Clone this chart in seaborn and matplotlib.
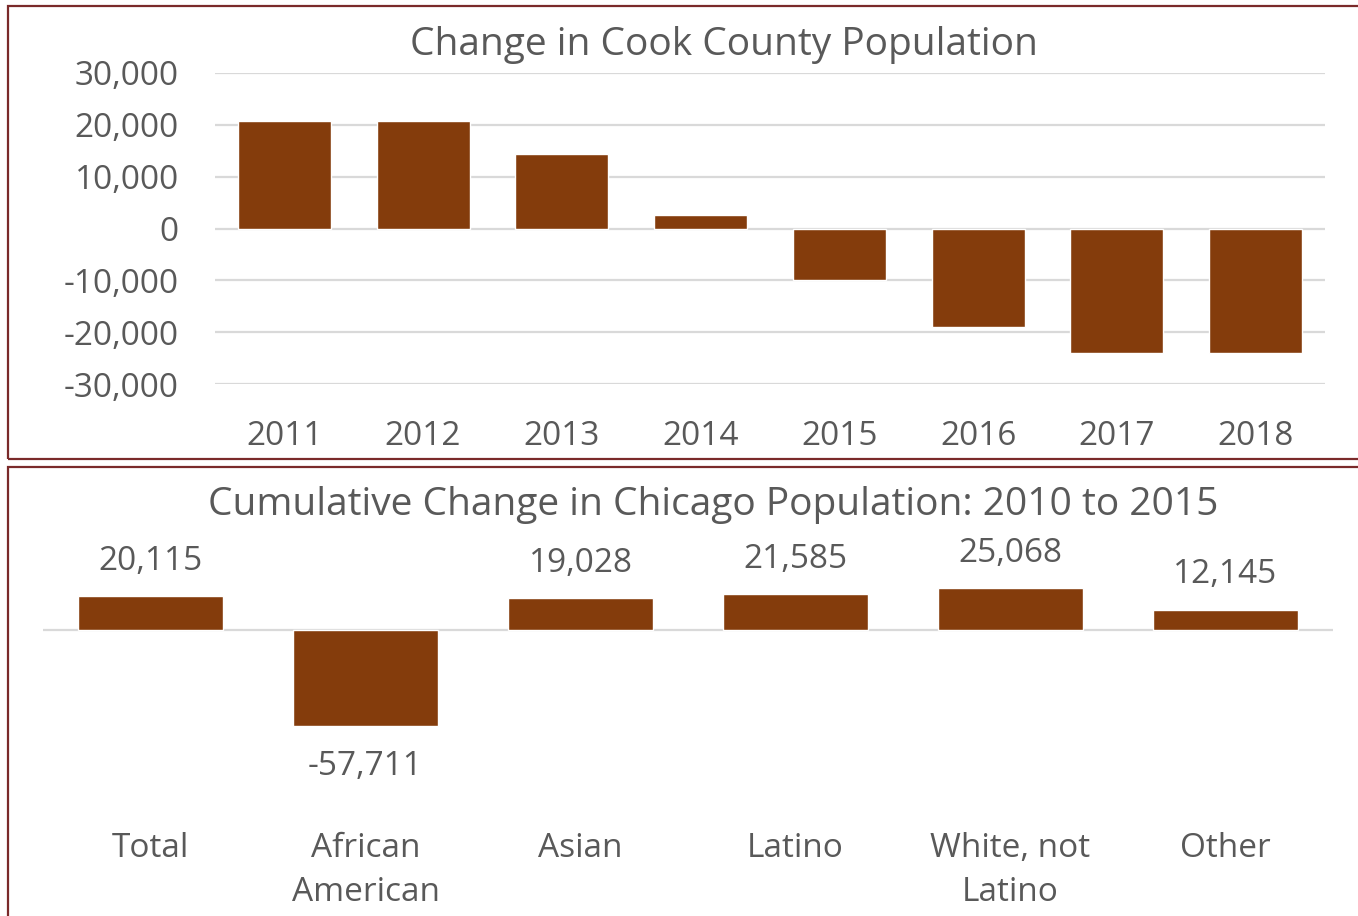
import matplotlib
matplotlib.use("Agg")
import matplotlib.pyplot as plt
import seaborn as sns
import pandas as pd
from matplotlib.patches import Rectangle

years = ["2011", "2012", "2013", "2014", "2015", "2016", "2017", "2018"]
cook_change = [20700, 20700, 14300, 2700, -10000, -19000, -24000, -24000]
y_ticks = [-30000, -20000, -10000, 0, 10000, 20000, 30000]

groups = ["Total", "African\nAmerican", "Asian", "Latino", "White, not\nLatino", "Other"]
chicago_change = [20115, -57711, 19028, 21585, 25068, 12145]

title_top = "Change in Cook County Population"
title_bottom = "Cumulative Change in Chicago Population: 2010 to 2015"

BAR = "#843C0C"
TXT = "#595959"
GRID = "#D9D9D9"
FRAME = "#7A2A2A"

sns.set_theme(style="white")
plt.rcParams['font.family'] = ['Open Sans', 'DejaVu Sans']

W, H = 1358, 916
fig = plt.figure(figsize=(W / 100, H / 100), dpi=100)

def fx(px):
    return px / W

def fy(py):
    return 1 - py / H

# frames
fig.patches.append(Rectangle((fx(8), fy(459)), fx(1400 - 8), (459 - 6) / H,
                             transform=fig.transFigure, fill=False, edgecolor=FRAME, lw=1.6))
fig.patches.append(Rectangle((fx(8), fy(940)), fx(1400 - 8), (940 - 467) / H,
                             transform=fig.transFigure, fill=False, edgecolor=FRAME, lw=1.6))

# ---------- top chart ----------
ax1 = fig.add_axes([fx(215), fy(384), fx(1325 - 215), (384 - 73) / H])
df1 = pd.DataFrame({"year": years, "change": cook_change})
sns.barplot(data=df1, x="year", y="change", color=BAR, width=0.67, ax=ax1,
            saturation=1, zorder=3)
ax1.set_xlim(-0.5, 7.5)
ax1.set_ylim(-30000, 30000)
ax1.set_yticks(y_ticks)
ax1.set_yticklabels([f"{v:,}" for v in y_ticks])
ax1.yaxis.grid(True, color=GRID, lw=1.6, zorder=0)
ax1.set_axisbelow(True)
for s in ax1.spines.values():
    s.set_visible(False)
ax1.tick_params(axis="both", length=0, labelsize=24, colors=TXT)
ax1.tick_params(axis="y", pad=26)
ax1.tick_params(axis="x", pad=26)
ax1.set_xlabel("")
ax1.set_ylabel("")
fig.text(fx(724), fy(45), title_top, ha="center", va="center", fontsize=28, color=TXT)

# ---------- bottom chart ----------
zero_y = 630
top_px, bot_px = 550, 760
scale = 1.67 / 1000  # px per unit
ax2 = fig.add_axes([fx(43), fy(bot_px), fx(1333 - 43), (bot_px - top_px) / H])
df2 = pd.DataFrame({"group": groups, "change": chicago_change})
sns.barplot(data=df2, x="group", y="change", color=BAR, width=0.67, ax=ax2,
            saturation=1, zorder=3)
ax2.set_xlim(-0.5, 5.5)
ax2.set_ylim(-(bot_px - zero_y) / scale, (zero_y - top_px) / scale)
ax2.axhline(0, color=GRID, lw=1.6, zorder=1)
ax2.set_yticks([])
for s in ax2.spines.values():
    s.set_visible(False)
ax2.tick_params(axis="x", length=0, labelsize=24, colors=TXT, pad=51.5)
for lbl in ax2.get_xticklabels():
    lbl.set_linespacing(1.45)
ax2.set_xlabel("")
ax2.set_ylabel("")
for i, v in enumerate(chicago_change):
    if v >= 0:
        ax2.annotate(f"{v:,}", (i, v), xytext=(0, 25), textcoords="offset points",
                     ha="center", va="center", fontsize=24, color=TXT)
    else:
        ax2.annotate(f"{v:,}", (i, v), xytext=(0, -29), textcoords="offset points",
                     ha="center", va="center", fontsize=24, color=TXT)
fig.text(fx(713), fy(505), title_bottom, ha="center", va="center", fontsize=28, color=TXT)

fig.savefig("out.png", dpi=100, facecolor="white")
